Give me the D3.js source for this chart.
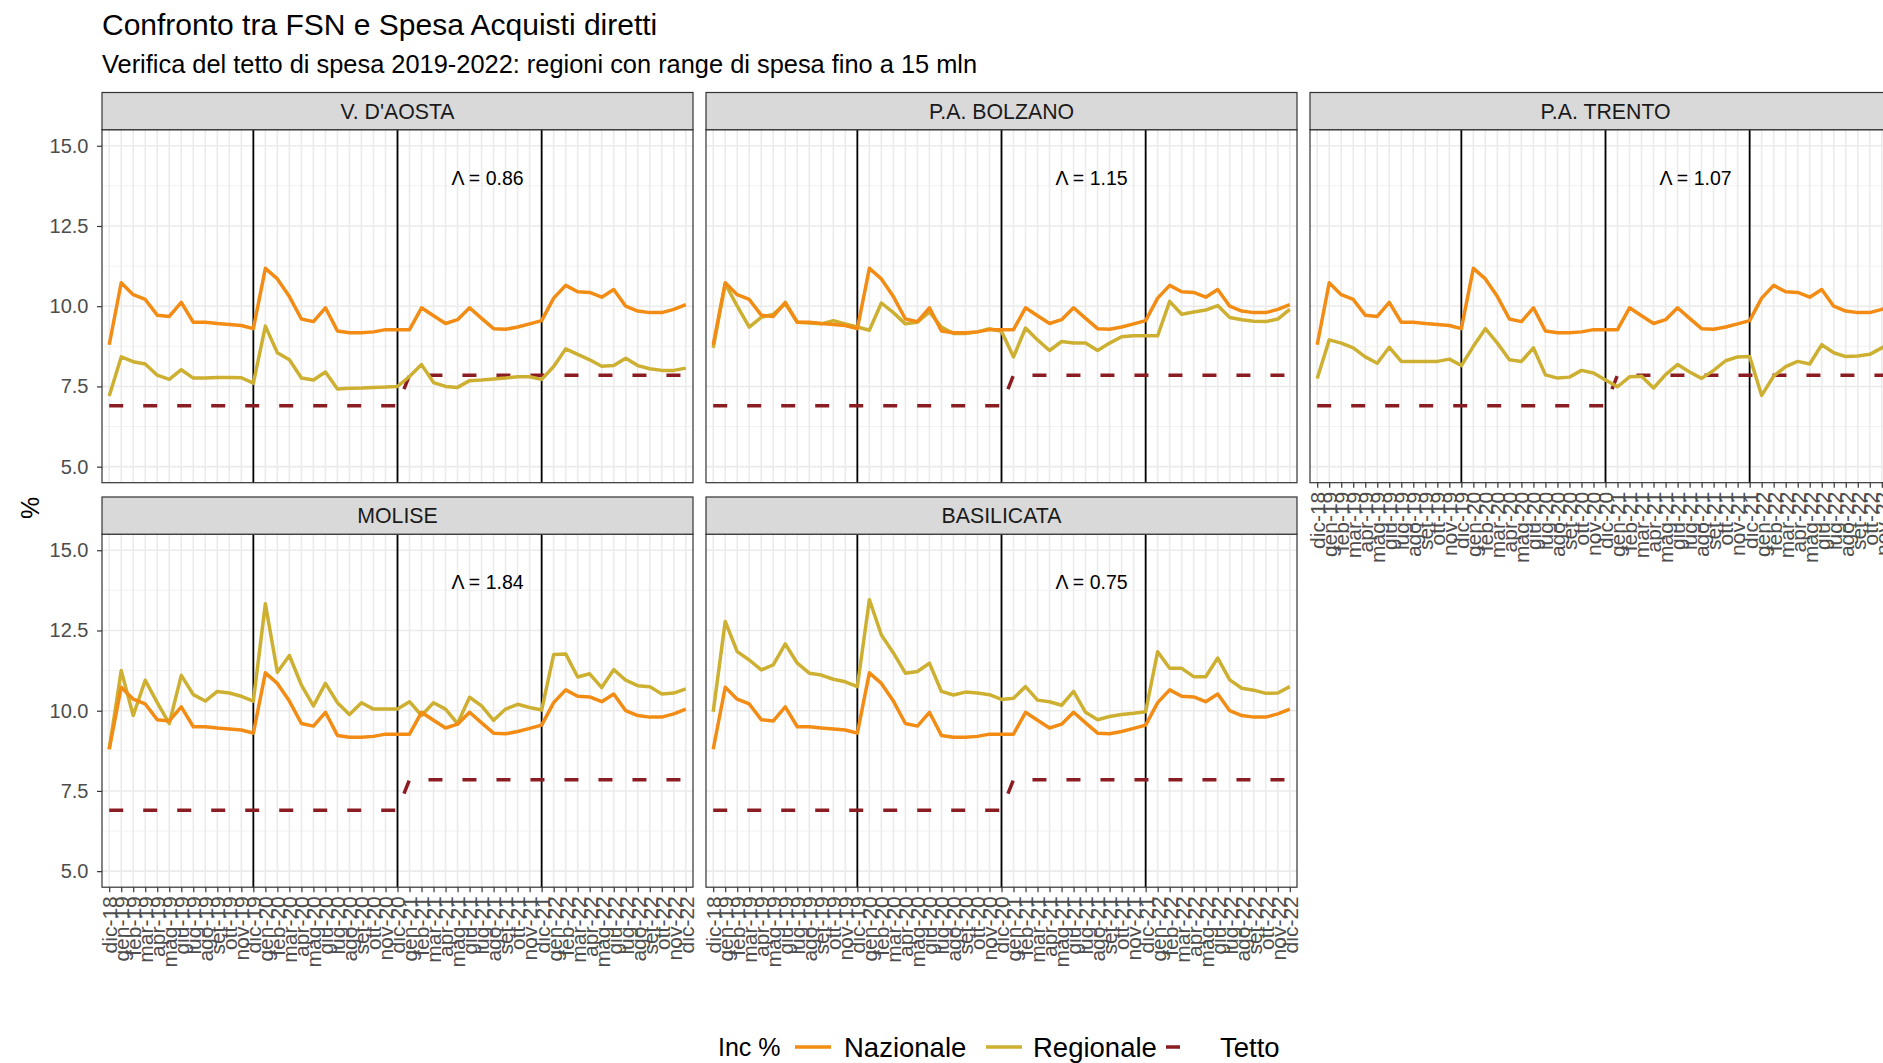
<!DOCTYPE html>
<html>
<head>
<meta charset="utf-8">
<script src="https://cdn.jsdelivr.net/npm/d3@7"></script>
<style>
  body { margin: 0; background: #ffffff; }
  text { font-family: "Liberation Sans", Arial, sans-serif; }
</style>
</head>
<body>
<svg id="chart" width="1883" height="1063"></svg>
<script>
// Months on the x axis (one point per month, dic-18 .. dic-22)
const categories = [
  "dic-18",
  "gen-19","feb-19","mar-19","apr-19","mag-19","giu-19","lug-19","ago-19","set-19","ott-19","nov-19","dic-19",
  "gen-20","feb-20","mar-20","apr-20","mag-20","giu-20","lug-20","ago-20","set-20","ott-20","nov-20","dic-20",
  "gen-21","feb-21","mar-21","apr-21","mag-21","giu-21","lug-21","ago-21","set-21","ott-21","nov-21","dic-21",
  "gen-22","feb-22","mar-22","apr-22","mag-22","giu-22","lug-22","ago-22","set-22","ott-22","nov-22","dic-22"
];

// Year separators
const yearEnds = ["dic-19", "dic-20", "dic-21"];

// Y axis ticks
const yTicks = [5.0, 7.5, 10.0, 12.5, 15.0];

// Incidenza % nazionale (same in every panel)
const nazionale = [
  8.80,
  10.73, 10.36, 10.21, 9.72, 9.68, 10.12, 9.50, 9.50, 9.46, 9.43, 9.40, 9.30,
  11.18, 10.85, 10.30, 9.60, 9.52, 9.95, 9.23, 9.17, 9.17, 9.20, 9.27, 9.27,
  9.27, 9.95, 9.70, 9.46, 9.58, 9.95, 9.62, 9.30, 9.28, 9.35, 9.45, 9.55,
  10.25, 10.65, 10.45, 10.43, 10.28, 10.52, 10.00, 9.85, 9.80, 9.80, 9.90, 10.05
];

// Tetto di spesa
const tetto = [
  6.9,
  6.9, 6.9, 6.9, 6.9, 6.9, 6.9, 6.9, 6.9, 6.9, 6.9, 6.9, 6.9,
  6.9, 6.9, 6.9, 6.9, 6.9, 6.9, 6.9, 6.9, 6.9, 6.9, 6.9, 6.9,
  7.85, 7.85, 7.85, 7.85, 7.85, 7.85, 7.85, 7.85, 7.85, 7.85, 7.85, 7.85,
  7.85, 7.85, 7.85, 7.85, 7.85, 7.85, 7.85, 7.85, 7.85, 7.85, 7.85, 7.85
];

// Incidenza % regionale
const regAosta = [
  7.20,
  8.42, 8.27, 8.20, 7.85, 7.72, 8.02, 7.76, 7.76, 7.78, 7.78, 7.77, 7.60,
  9.38, 8.55, 8.33, 7.76, 7.70, 7.95, 7.42, 7.44, 7.45, 7.47, 7.48, 7.50,
  7.81, 8.18, 7.62, 7.50, 7.47, 7.68, 7.70, 7.73, 7.76, 7.80, 7.80, 7.72,
  8.12, 8.67, 8.50, 8.33, 8.13, 8.15, 8.38, 8.15, 8.05, 8.00, 8.00, 8.07
];
const regBolzano = [
  8.70,
  10.70, 10.00, 9.35, 9.65, 9.75, 10.08, 9.50, 9.48, 9.45, 9.55, 9.45, 9.35,
  9.25, 10.10, 9.80, 9.45, 9.50, 9.82, 9.35, 9.15, 9.15, 9.20, 9.30, 9.22,
  8.42, 9.32, 8.95, 8.62, 8.90, 8.85, 8.85, 8.62, 8.85, 9.05, 9.08, 9.08,
  9.08, 10.15, 9.75, 9.82, 9.88, 10.02, 9.65, 9.58, 9.53, 9.52, 9.60, 9.90
];
const regTrento = [
  7.75,
  8.95, 8.85, 8.70, 8.42, 8.22, 8.72, 8.28, 8.28, 8.28, 8.28, 8.35, 8.15,
  8.75, 9.30, 8.85, 8.33, 8.28, 8.70, 7.86, 7.76, 7.79, 8.00, 7.92, 7.70,
  7.49, 7.80, 7.82, 7.45, 7.87, 8.18, 7.95, 7.75, 8.00, 8.30, 8.42, 8.43,
  7.22, 7.82, 8.12, 8.28, 8.20, 8.80, 8.55, 8.43, 8.45, 8.50, 8.70, 8.90
];
const regMolise = [
  8.80,
  11.25, 9.85, 10.95, 10.25, 9.60, 11.10, 10.50, 10.30, 10.60, 10.55, 10.45, 10.30,
  13.33, 11.20, 11.72, 10.80, 10.15, 10.85, 10.25, 9.88, 10.25, 10.05, 10.05, 10.05,
  10.28, 9.85, 10.25, 10.05, 9.60, 10.42, 10.15, 9.70, 10.05, 10.20, 10.10, 10.02,
  11.75, 11.77, 11.05, 11.15, 10.72, 11.28, 10.95, 10.78, 10.75, 10.52, 10.55, 10.68
];
const regBasilicata = [
  9.97,
  12.78, 11.84, 11.58, 11.27, 11.43, 12.08, 11.48, 11.17, 11.11, 10.98, 10.90, 10.75,
  13.46, 12.36, 11.80, 11.17, 11.22, 11.48, 10.60, 10.49, 10.58, 10.55, 10.50, 10.35,
  10.39, 10.75, 10.33, 10.28, 10.17, 10.60, 9.95, 9.72, 9.82, 9.88, 9.92, 9.97,
  11.84, 11.32, 11.32, 11.06, 11.06, 11.64, 10.96, 10.70, 10.64, 10.54, 10.55, 10.75
];

// Facets
const regions = ["V. D'AOSTA", "P.A. BOLZANO", "P.A. TRENTO", "MOLISE", "BASILICATA"];
const regionale = [regAosta, regBolzano, regTrento, regMolise, regBasilicata];
const deltas = ["0.86", "1.15", "1.07", "1.84", "0.75"];

// Legend entries
const seriesNames = ["Nazionale", "Regionale", "Tetto"];
const legendTitle = "Inc %";

// ---------------------------------------------------------------------------
const colNaz = "#f28c14";
const colReg = "#cdb032";
const colTetto = "#8b1c22";
const fontFamily = "Liberation Sans, Arial, sans-serif";

const svg = d3.select("#chart");
svg.append("rect").attr("width", 1883).attr("height", 1063).attr("fill", "#ffffff");

const colX = [102, 706, 1310];
const stripTop = [92.5, 497];
const stripH = 37.2;
const panelW = 591, panelH = 353;

const x = d3.scalePoint().domain(categories).range([0, panelW]).padding(0.6);
const y = d3.scaleLinear().domain([4.5, 15.5]).range([panelH, 0]);

const line = d3.line()
  .x((d, i) => x(categories[i]))
  .y(d => y(d));

// Titles
svg.append("text").attr("x", 102).attr("y", 35)
  .attr("font-size", 30).attr("fill", "#000")
  .text("Confronto tra FSN e Spesa Acquisti diretti");
svg.append("text").attr("x", 102).attr("y", 73)
  .attr("font-size", 25.4).attr("fill", "#000")
  .text("Verifica del tetto di spesa 2019-2022: regioni con range di spesa fino a 15 mln");

// Y axis title
svg.append("text")
  .attr("transform", "translate(39,508) rotate(-90)")
  .attr("text-anchor", "middle").attr("font-size", 25).attr("fill", "#000")
  .text("%");

regions.forEach((name, k) => {
  const row = k < 3 ? 0 : 1;
  const col = k % 3;
  const px = colX[col];
  const sy = stripTop[row];
  const py = sy + stripH;
  const g = svg.append("g").attr("transform", `translate(${px},${py})`);

  // strip
  svg.append("rect").attr("x", px).attr("y", sy).attr("width", panelW).attr("height", stripH)
    .attr("fill", "#d9d9d9").attr("stroke", "#333333").attr("stroke-width", 1.2);
  svg.append("text").attr("x", px + panelW / 2).attr("y", sy + stripH / 2).attr("dy", "0.36em")
    .attr("text-anchor", "middle").attr("font-size", 21.3).attr("fill", "#1a1a1a").text(name);

  // grid
  const minor = [6.25, 8.75, 11.25, 13.75];
  g.selectAll(".gmin").data(minor).enter().append("line")
    .attr("x1", 0).attr("x2", panelW).attr("y1", d => y(d)).attr("y2", d => y(d))
    .attr("stroke", "#f2f2f2").attr("stroke-width", 1);
  g.selectAll(".gy").data(yTicks).enter().append("line")
    .attr("x1", 0).attr("x2", panelW).attr("y1", d => y(d)).attr("y2", d => y(d))
    .attr("stroke", "#ebebeb").attr("stroke-width", 1.6);
  g.selectAll(".gx").data(categories).enter().append("line")
    .attr("x1", d => x(d)).attr("x2", d => x(d)).attr("y1", 0).attr("y2", panelH)
    .attr("stroke", "#ebebeb").attr("stroke-width", 1.6);

  // year separators
  g.selectAll(".vl").data(yearEnds).enter().append("line")
    .attr("x1", d => x(d)).attr("x2", d => x(d)).attr("y1", 0).attr("y2", panelH)
    .attr("stroke", "#000").attr("stroke-width", 1.8);

  // series
  g.append("path").datum(tetto).attr("d", line).attr("fill", "none")
    .attr("stroke", colTetto).attr("stroke-width", 3.5).attr("stroke-dasharray", "14,20");
  g.append("path").datum(regionale[k]).attr("d", line).attr("fill", "none")
    .attr("stroke", colReg).attr("stroke-width", 3.5).attr("stroke-linejoin", "round");
  g.append("path").datum(nazionale).attr("d", line).attr("fill", "none")
    .attr("stroke", colNaz).attr("stroke-width", 3.5).attr("stroke-linejoin", "round");

  // annotation
  g.append("text").attr("x", x(categories[31]) + 6).attr("y", y(14)).attr("dy", "0.35em")
    .attr("text-anchor", "middle").attr("font-size", 19.5).attr("fill", "#000")
    .text("\u039B = " + deltas[k]);

  // border
  g.append("rect").attr("width", panelW).attr("height", panelH)
    .attr("fill", "none").attr("stroke", "#333333").attr("stroke-width", 1.2);

  // axes
  if (col === 0) {
    const ax = g.append("g").call(d3.axisLeft(y).tickValues(yTicks).tickFormat(d3.format(".1f"))
      .tickSize(5).tickPadding(8.5));
    ax.select(".domain").remove();
    ax.selectAll("line").attr("stroke", "#333333").attr("stroke-width", 1.2);
    ax.selectAll("text").attr("font-size", 20).attr("fill", "#4d4d4d")
      .attr("font-family", fontFamily);
  }
  if (row === 1 || k === 2) {
    const ax = g.append("g").attr("transform", `translate(0,${panelH})`)
      .call(d3.axisBottom(x).tickSize(5).tickPadding(4));
    ax.select(".domain").remove();
    ax.selectAll("line").attr("stroke", "#333333").attr("stroke-width", 1.2);
    ax.selectAll("text").attr("font-size", 21).attr("fill", "#4d4d4d")
      .attr("font-family", fontFamily)
      .attr("text-anchor", "end")
      .attr("transform", "rotate(-90)")
      .attr("x", -9).attr("y", 0).attr("dy", "0.35em");
  }
});

// Legend
const lg = svg.append("g").attr("transform", "translate(0,1047)");
lg.append("text").attr("x", 718).attr("y", 0).attr("dy", "0.35em")
  .attr("font-size", 25).attr("fill", "#000").text(legendTitle);
const keyX = [795, 986, 1166];
const labX = [844, 1033, 1220];
const keyCol = [colNaz, colReg, colTetto];
seriesNames.forEach((s, i) => {
  lg.append("line").attr("x1", keyX[i]).attr("x2", keyX[i] + 36).attr("y1", 0).attr("y2", 0)
    .attr("stroke", keyCol[i]).attr("stroke-width", 3.5)
    .attr("stroke-dasharray", i === 2 ? "14,40" : null);
  lg.append("text").attr("x", labX[i]).attr("y", 0).attr("dy", "0.35em")
    .attr("font-size", 27.5).attr("fill", "#000").text(s);
});
</script>
</body>
</html>
